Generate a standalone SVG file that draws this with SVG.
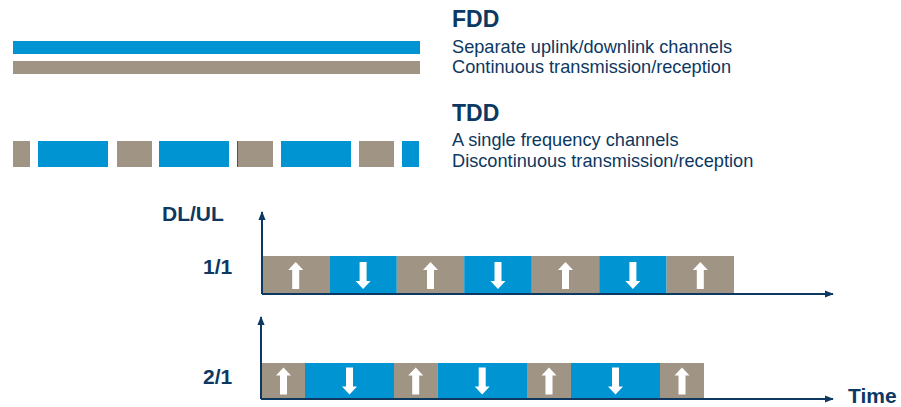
<svg xmlns="http://www.w3.org/2000/svg" width="901" height="407" viewBox="0 0 901 407">
<style>
.b{fill:#0094d3}
.g{fill:#a09484}
.t{font-family:"Liberation Sans",Arial,sans-serif;fill:#0c3862}
.h{font-weight:bold;font-size:23px}
.r{font-size:18.2px}
.l{font-weight:bold;font-size:21px}
.ax{stroke:#0c3862;stroke-width:2;fill:none}
.w{fill:#ffffff}
</style>
<defs>
<marker id="ah" viewBox="0 0 10 8" refX="9" refY="4" markerWidth="4.5" markerHeight="3.6" orient="auto" markerUnits="strokeWidth">
<path d="M0,0 L10,4 L0,8 Z" fill="#0c3862"/>
</marker>
<path id="up" d="M-3.5,0 V-19 H-7.5 L0,-27 L7.5,-19 H3.5 V0 Z"/>
<path id="dn" d="M-3.5,-27 V-8 H-7.5 L0,0 L7.5,-8 H3.5 V-27 Z"/>
</defs>
<rect width="901" height="407" fill="#ffffff"/>
<g id="fdd-bars">
<rect class="b" x="13" y="41" width="407" height="13"/>
<rect class="g" x="13" y="61" width="407" height="13"/>
</g>
<g id="tdd-bar">
<rect class="g" x="13" y="141" width="17" height="26"/>
<rect class="b" x="38" y="141" width="70" height="26"/>
<rect class="g" x="117" y="141" width="35" height="26"/>
<rect class="b" x="159" y="141" width="70" height="26"/>
<rect class="g" x="237" y="141" width="36" height="26"/>
<rect x="237" y="141" width="0.8" height="26" fill="#e00000"/>
<rect class="b" x="281" y="141" width="70" height="26"/>
<rect class="g" x="359" y="141" width="35" height="26"/>
<rect class="b" x="402" y="141" width="17" height="26"/>
</g>
<g id="fdd-text" class="t">
<text class="h" x="452" y="27">FDD</text>
<text class="r" x="452" y="53">Separate uplink/downlink channels</text>
<text class="r" x="452" y="73">Continuous transmission/reception</text>
</g>
<g id="tdd-text" class="t">
<text class="h" x="452" y="121">TDD</text>
<text class="r" x="452" y="146">A single frequency channels</text>
<text class="r" x="452" y="167">Discontinuous transmission/reception</text>
</g>
<g id="labels" class="t">
<text class="l" x="162" y="221">DL/UL</text>
<text class="l" x="203" y="274">1/1</text>
<text class="l" x="203" y="384">2/1</text>
<text class="l" x="848" y="403">Time</text>
</g>
<g id="row-1-1">
<rect class="g" x="262" y="256" width="67.4" height="37"/>
<rect class="b" x="329.4" y="256" width="67.4" height="37"/>
<rect class="g" x="396.8" y="256" width="67.4" height="37"/>
<rect class="b" x="464.2" y="256" width="67.6" height="37"/>
<rect class="g" x="531.8" y="256" width="67.4" height="37"/>
<rect class="b" x="599.2" y="256" width="67.4" height="37"/>
<rect class="g" x="666.6" y="256" width="67.4" height="37"/>
<use href="#up" class="w" x="295.7" y="289"/>
<use href="#dn" class="w" x="363.1" y="289"/>
<use href="#up" class="w" x="430.5" y="289"/>
<use href="#dn" class="w" x="498" y="289"/>
<use href="#up" class="w" x="565.5" y="289"/>
<use href="#dn" class="w" x="632.9" y="289"/>
<use href="#up" class="w" x="700.3" y="289"/>
</g>
<g id="row-2-1">
<rect class="g" x="261" y="363" width="44" height="35"/>
<rect class="b" x="305" y="363" width="89" height="35"/>
<rect class="g" x="394" y="363" width="43.5" height="35"/>
<rect class="b" x="437.5" y="363" width="89.5" height="35"/>
<rect class="g" x="527" y="363" width="44" height="35"/>
<rect class="b" x="571" y="363" width="89" height="35"/>
<rect class="g" x="660" y="363" width="44" height="35"/>
<use href="#up" class="w" x="283.5" y="394.5"/>
<use href="#dn" class="w" x="349.5" y="394.5"/>
<use href="#up" class="w" x="415.7" y="394.5"/>
<use href="#dn" class="w" x="482.2" y="394.5"/>
<use href="#up" class="w" x="549" y="394.5"/>
<use href="#dn" class="w" x="615.5" y="394.5"/>
<use href="#up" class="w" x="682" y="394.5"/>
</g>
<g id="connectors">
<path class="ax" d="M262,294 V212" marker-end="url(#ah)"/>
<path class="ax" d="M262,294 H833" marker-end="url(#ah)"/>
<path class="ax" d="M261,399 V317" marker-end="url(#ah)"/>
<path class="ax" d="M261,399 H833" marker-end="url(#ah)"/>
</g>
</svg>
